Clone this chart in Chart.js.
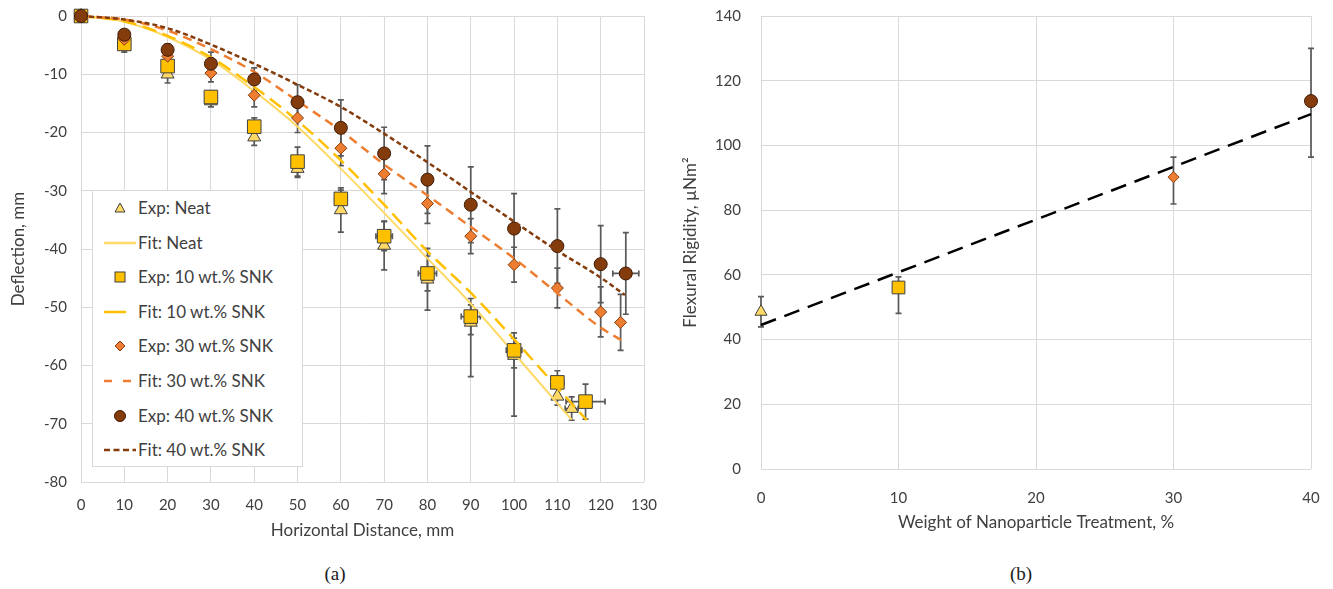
<!DOCTYPE html>
<html><head><meta charset="utf-8">
<script src="https://cdn.jsdelivr.net/npm/chart.js@4.4.1/dist/chart.umd.min.js"></script>
<style>
html,body{margin:0;padding:0;background:#fff;}
body{width:1333px;height:589px;position:relative;overflow:hidden;font-family:Lato,"Open Sans",sans-serif;}
#wa{position:absolute;left:0;top:0;width:660px;height:545px;}
#wb{position:absolute;left:670px;top:0;width:663px;height:545px;}
#legend{position:absolute;left:92px;top:190px;width:211px;height:277px;border:1px solid #d9d9d9;background:#fff;box-sizing:border-box;}
.item{position:absolute;left:0;width:209px;height:24px;}
.item svg{position:absolute;left:0;top:0;}
.item span{position:absolute;left:45px;top:0;line-height:24px;font-size:17px;color:#404040;white-space:nowrap;}
.cap{position:absolute;font-family:"Liberation Serif","DejaVu Serif",serif;font-size:19px;color:#1a1a1a;transform:translateX(-50%);}
</style>
</head><body>
<div id="wa"><canvas id="ca" width="660" height="545"></canvas></div>
<div id="wb"><canvas id="cb" width="663" height="545"></canvas></div>
<div id="legend"></div>
<div class="cap" style="left:335px;top:563px;">(a)</div>
<div class="cap" style="left:1021px;top:563px;">(b)</div>
<script>
// ---------- Chart (a) data ----------
const xTicksA = [0,10,20,30,40,50,60,70,80,90,100,110,120,130];
const yTicksA = [0,-10,-20,-30,-40,-50,-60,-70,-80];

const neatX = [0,10,20,30,40,50,60,70,80,90,100,110,113.3];
const neatY = [0,-5.2,-10,-14.6,-20.8,-26.2,-33.3,-39.4,-45.2,-52.6,-58.3,-65.3,-67.4];
const neatErrDown = [0,1,1.5,1,1.4,1.5,3.8,4.2,5.3,9.3,10.4,1.5,2];
const neatErrUp   = [0,1,1.5,1,1.4,1.5,3.8,4.2,5.3,3,3,1.5,2];
const neatErrX    = [0,0,0,0,0,0,0,0,0,0,0,0,1.5];

const snk10X = [0,10,20,30,40,50,60,70,80,90,100,110,116.5];
const snk10Y = [0,-4.8,-8.6,-13.9,-19,-25,-31.4,-37.8,-44.2,-51.6,-57.4,-62.9,-66.2];
const snk10Err = [0,1,1.2,1,1.5,2.5,1.5,2.5,3,3.1,3,2,3];
const snk10ErrX = [0,0,0,0,0,0,1.4,1.9,2.1,2.2,1.8,1.5,4.5];

const snk30X = [0,10,20,30,40,50,60,70,80,90,100,110,120,124.6];
const snk30Y = [0,-4,-6.9,-9.8,-13.6,-17.5,-22.7,-27.1,-32.2,-37.8,-42.7,-46.7,-50.8,-52.6];
const snk30Err = [0,0.5,1,1.5,2,2.5,3,3.4,3.4,3,3,3.4,4.3,4.8];

const snk40X = [0,10,20,30,40,50,60,70,80,90,100,110,120,125.8];
const snk40Y = [0,-3.2,-5.8,-8.2,-10.9,-14.8,-19.2,-23.6,-28.1,-32.4,-36.5,-39.5,-42.6,-44.2];
const snk40Err = [0,0.5,1,2,2,3,4.8,4.5,5.8,6.5,6,6.4,6.6,7];
const snk40ErrX = [0,0,0,0,0,0,0,0,0,0,0,0,0,3];

const fitNeatX = [0,10,20,30,40,50,60,70,80,90,100,110,113.3];
const fitNeatY = [0,-1,-3.6,-7.5,-12.9,-19,-26.2,-33.8,-41.6,-49.4,-57.9,-66.5,-69.3];
const fit10X = [0,10,20,30,40,50,60,70,80,90,100,110,116.8];
const fit10Y = [0,-0.9,-3.4,-7.1,-12.2,-18,-24.8,-32.4,-40.4,-47.5,-55.5,-63.8,-69.4];
const fit30X = [0,10,20,30,40,50,60,70,80,90,100,110,120,124.9];
const fit30Y = [0,-0.6,-2.5,-5.7,-9.6,-14.6,-19.7,-25.5,-30.8,-36.2,-41.6,-47.6,-53.5,-55.7];
const fit40X = [0,10,20,30,40,50,60,70,80,90,100,110,120,125.6];
const fit40Y = [0,-0.6,-2.1,-4.9,-8.2,-11.8,-15.6,-20.2,-25.1,-30.2,-35.3,-40.3,-44.9,-47.9];

// ---------- Chart (b) data ----------
const xTicksB = [0,10,20,30,40];
const yTicksB = [0,20,40,60,80,100,120,140];
const rigX = [0,10,30,40];
const rigY = [48.6,56.1,90.2,113.7];
const rigErrDown = [4.7,8,8.3,17.3];
const rigErrUp   = [4.7,3.3,6.2,16.3];
const trendX = [0,40];
const trendY = [44.5,109.7];

const legendLabels = ['Exp: Neat','Fit: Neat','Exp: 10 wt.% SNK','Fit: 10 wt.% SNK','Exp: 30 wt.% SNK','Fit: 30 wt.% SNK','Exp: 40 wt.% SNK','Fit: 40 wt.% SNK'];

// ---------- styles ----------
const C = {
  neat:'#FFD966', snk10:'#FFC000', snk30:'#ED7D31', snk40:'#843C0C',
  grid:'#d9d9d9', text:'#404040', err:'#595959'
};
const FONT = 'Lato, "Open Sans", sans-serif';

function pts(xs, ys){ return xs.map((x,i)=>({x:x, y:ys[i]})); }

const errorBars = {
  id:'errorBars',
  beforeDatasetsDraw(chart){
    const {ctx} = chart, xs = chart.scales.x, ys = chart.scales.y;
    ctx.save();
    ctx.strokeStyle = C.err; ctx.lineWidth = 1.7;
    const cap = 3;
    chart.data.datasets.forEach(ds=>{
      if(!ds.errUp && !ds.errX) return;
      ds.data.forEach((p,j)=>{
        const px = xs.getPixelForValue(p.x), py = ys.getPixelForValue(p.y);
        if(ds.errUp){
          const up = ds.errUp[j], dn = ds.errDown[j];
          if(up>0 || dn>0){
            const y1 = ys.getPixelForValue(p.y+up), y2 = ys.getPixelForValue(p.y-dn);
            ctx.beginPath();
            ctx.moveTo(px,y1); ctx.lineTo(px,y2);
            ctx.moveTo(px-cap,y1); ctx.lineTo(px+cap,y1);
            ctx.moveTo(px-cap,y2); ctx.lineTo(px+cap,y2);
            ctx.stroke();
          }
        }
        if(ds.errX && ds.errX[j]>0){
          const e = ds.errX[j];
          const x1 = xs.getPixelForValue(p.x-e), x2 = xs.getPixelForValue(p.x+e);
          ctx.beginPath();
          ctx.moveTo(x1,py); ctx.lineTo(x2,py);
          ctx.moveTo(x1,py-cap); ctx.lineTo(x1,py+cap);
          ctx.moveTo(x2,py-cap); ctx.lineTo(x2,py+cap);
          ctx.stroke();
        }
      });
    });
    ctx.restore();
  }
};

function expDs(xs, ys, style, r, fill, border, down, up, ex, order){
  return {type:'scatter', data:pts(xs,ys), showLine:false, pointStyle:style, pointRadius:r,
    pointBackgroundColor:fill, pointBorderColor:border, pointBorderWidth:1, clip:false,
    backgroundColor:fill, borderColor:border, errDown:down, errUp:up, errX:ex, order:order};
}
function fitDs(xs, ys, color, width, dash, order){
  return {type:'scatter', data:pts(xs,ys), showLine:true, pointRadius:0, borderColor:color, clip:false,
    borderWidth:width, borderDash:dash, cubicInterpolationMode:'monotone', fill:false, order:order};
}

function scaleOpts(min, max, step, title, titlePad, tickPad, fit){
  return {
    type:'linear', min:min, max:max,
    ticks:{stepSize:step, color:C.text, font:{family:FONT, size:15}, padding:tickPad, autoSkip:false, maxRotation:0, includeBounds:true},
    grid:{color:C.grid, lineWidth:1, drawTicks:false},
    border:{display:false},
    title:{display:true, text:title, color:C.text, font:{family:FONT, size:17}, padding:titlePad},
    afterFit: s=>{ fit(s); s.paddingTop=0; s.paddingBottom=0; s.paddingLeft=0; s.paddingRight=0; }
  };
}

const commonOpts = {
  responsive:false, animation:false, devicePixelRatio:1,
  plugins:{legend:{display:false}, tooltip:{enabled:false}}
};

// ---------- Chart (a) ----------
const xa = scaleOpts(0,130,10,'Horizontal Distance, mm',{top:0,bottom:4},14,s=>{s.height=63;});
xa.afterBuildTicks = s=>{ s.ticks = xTicksA.map(v=>({value:v})); };
const ya = scaleOpts(-80,0,10,'Deflection, mm',{top:8,bottom:0},14,s=>{s.width=81;});
ya.afterBuildTicks = s=>{ s.ticks = yTicksA.slice().reverse().map(v=>({value:v})); };

new Chart(document.getElementById('ca'), {
  type:'scatter',
  data:{datasets:[
    expDs(neatX, neatY, 'triangle', 7.5, C.neat, '#404040', neatErrDown, neatErrUp, neatErrX, 8),
    fitDs(fitNeatX, fitNeatY, C.neat, 2, [], 7),
    expDs(snk10X, snk10Y, 'rect', 9.6, C.snk10, '#404040', snk10Err, snk10Err, snk10ErrX, 6),
    fitDs(fit10X, fit10Y, C.snk10, 2.5, [14,7], 5),
    expDs(snk30X, snk30Y, 'rectRot', 6, C.snk30, '#8a3d0c', snk30Err, snk30Err, null, 4),
    fitDs(fit30X, fit30Y, C.snk30, 2.5, [9,6], 3),
    expDs(snk40X, snk40Y, 'circle', 6.5, C.snk40, '#3d1a05', snk40Err, snk40Err, snk40ErrX, 2),
    fitDs(fit40X, fit40Y, C.snk40, 2.5, [5,3], 1)
  ]},
  options:Object.assign({}, commonOpts, {
    layout:{padding:{top:16, right:16, left:0, bottom:0}},
    scales:{x:xa, y:ya}
  }),
  plugins:[errorBars]
});

// ---------- Chart (b) ----------
const xb = scaleOpts(0,40,10,'Weight of Nanoparticle Treatment, %',{top:0,bottom:12},20,s=>{s.height=76;});
xb.afterBuildTicks = s=>{ s.ticks = xTicksB.map(v=>({value:v})); };
const yb = scaleOpts(0,140,20,'Flexural Rigidity, \u00B5Nm\u00B2',{top:10,bottom:0},20,s=>{s.width=91;});
yb.afterBuildTicks = s=>{ s.ticks = yTicksB.map(v=>({value:v})); };

new Chart(document.getElementById('cb'), {
  type:'scatter',
  data:{datasets:[
    expDs([rigX[0]],[rigY[0]],'triangle',7,C.neat,'#404040',[rigErrDown[0]],[rigErrUp[0]],null,5),
    expDs([rigX[1]],[rigY[1]],'rect',9,C.snk10,'#404040',[rigErrDown[1]],[rigErrUp[1]],null,4),
    expDs([rigX[2]],[rigY[2]],'rectRot',5.5,C.snk30,'#8a3d0c',[rigErrDown[2]],[rigErrUp[2]],null,3),
    expDs([rigX[3]],[rigY[3]],'circle',6.5,C.snk40,'#3d1a05',[rigErrDown[3]],[rigErrUp[3]],null,2),
    fitDs(trendX, trendY, '#000000', 2.5, [16,9], 1)
  ]},
  options:Object.assign({}, commonOpts, {
    layout:{padding:{top:16, right:22, left:0, bottom:0}},
    scales:{x:xb, y:yb}
  }),
  plugins:[errorBars]
});

// ---------- HTML legend ----------
const sym = [
  '<polygon points="27,7 32,16 22,16" fill="'+C.neat+'" stroke="#404040" stroke-width="1"/>',
  '<line x1="11" y1="12" x2="43" y2="12" stroke="'+C.neat+'" stroke-width="2.5"/>',
  '<rect x="22" y="7" width="10" height="10" fill="'+C.snk10+'" stroke="#404040" stroke-width="1"/>',
  '<line x1="11" y1="12" x2="43" y2="12" stroke="'+C.snk10+'" stroke-width="2.5" stroke-dasharray="22,12"/>',
  '<polygon points="27,7 32,12 27,17 22,12" fill="'+C.snk30+'" stroke="#8a3d0c" stroke-width="1"/>',
  '<line x1="11" y1="12" x2="43" y2="12" stroke="'+C.snk30+'" stroke-width="2.5" stroke-dasharray="8,11"/>',
  '<circle cx="27" cy="12" r="5.5" fill="'+C.snk40+'" stroke="#3d1a05" stroke-width="1"/>',
  '<line x1="11" y1="12" x2="43" y2="12" stroke="'+C.snk40+'" stroke-width="2.5" stroke-dasharray="6,3.5"/>'
];
const lg = document.getElementById('legend');
legendLabels.forEach((t,i)=>{
  const d = document.createElement('div');
  d.className = 'item';
  d.style.top = (5 + i*34.6) + 'px';
  d.innerHTML = '<svg width="48" height="24">'+sym[i]+'</svg><span>'+t+'</span>';
  lg.appendChild(d);
});
</script>
</body></html>
